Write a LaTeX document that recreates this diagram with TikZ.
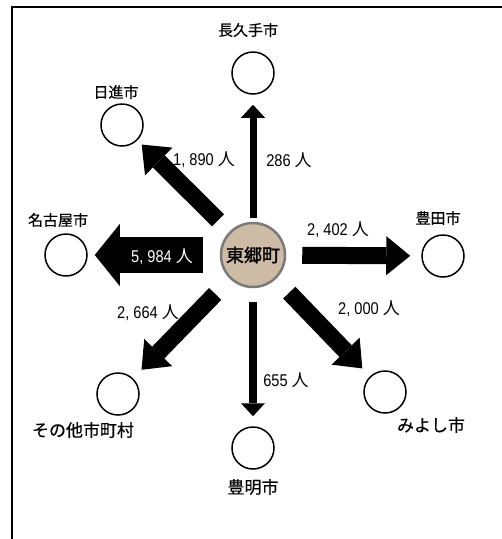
\documentclass[tikz,border=0pt]{standalone}
\usepackage{fontspec}
\setmainfont{Noto Sans CJK JP}
\newfontfamily\numfont[FakeStretch=0.86]{Liberation Sans}
\newfontfamily\jpfont{Noto Sans CJK JP}
\newfontfamily\lblfont{Noto Sans CJK JP}[BoldFont=Noto Sans CJK JP,BoldFeatures={FakeBold=0.5}]
\newfontfamily\hubfont{Noto Sans CJK JP}[BoldFont=Noto Sans CJK JP,BoldFeatures={FakeBold=1.6}]
\usetikzlibrary{arrows.meta}
\definecolor{hubfill}{HTML}{CDBBA5}
\definecolor{hubline}{HTML}{7A7A7A}
\begin{document}
\begin{tikzpicture}[x=1pt,y=-1pt,
  town/.style={circle,draw=black,line width=1.5pt,minimum size=42pt,inner sep=0pt},
  hub/.style={circle,draw=hubline,fill=hubfill,line width=2.5pt,minimum size=64pt,inner sep=0pt,
    font=\fontsize{18}{18}\selectfont\hubfont\bfseries},
  lbl/.style={inner sep=0pt,font=\fontsize{15}{15}\selectfont\lblfont\bfseries},
  lblb/.style={inner sep=0pt,font=\fontsize{17}{17}\selectfont\lblfont\bfseries},
  num/.style={inner sep=0pt,font=\fontsize{17}{17}\selectfont\numfont},
  flow/.style={draw=black,line width=#1},
  thinhead/.style={-{Triangle[length=13pt,width=24pt,line width=0pt]}},
  midhead/.style={-{Triangle[length=24pt,width=39pt,line width=0pt]}},
  bighead/.style={-{Triangle[length=25pt,width=62pt,line width=0pt]}},
]
\useasboundingbox (0,0) rectangle (502,539);
\draw[line width=2pt] (12,539) -- (12,7) -- (502,7);

\node[hub] (c) at (253,255) {東郷町};
\node[town] (nag) at (253,73) {};
\node[town] (nis) at (122,125) {};
\node[town] (ngy) at (66,255) {};
\node[town] (toy) at (443,256) {};
\node[town] (oth) at (118,394) {};
\node[town] (tym) at (253,448) {};
\node[town] (miy) at (385,392) {};

\node[lbl] (nagL) at (248,30) {長久手市};
\node[lbl] (nisL) at (116,92) {日進市};
\node[lbl] (ngyL) at (58,220) {名古屋市};
\node[lbl] (toyL) at (438,218) {豊田市};
\node[lblb] (othL) at (83,430) {その他市町村};
\node[lblb] (tymL) at (253,487) {豊明市};
\node[lblb] (miyL) at (431,425) {みよし市};

\draw[flow=7pt,thinhead,shorten <=4pt,shorten >=10pt] (c) -- (nag);
\draw[flow=8pt,thinhead,shorten <=14pt,shorten >=10pt] (c) -- (tym);
\draw[flow=17pt,midhead,shorten <=16pt,shorten >=6pt] (c) -- (nis);
\draw[flow=17pt,midhead,shorten <=16pt,shorten >=11pt] (c) -- (toy);
\draw[flow=17pt,midhead,shorten <=19pt,shorten >=11pt] (c) -- (miy);
\draw[flow=17pt,midhead,shorten <=21pt,shorten >=12pt] (c) -- (oth);
\draw[flow=36pt,bighead,shorten <=17pt,shorten >=7pt] (c) -- (ngy);

\node[num] (n1) at (204,160) {1, 890 {\jpfont 人}};
\node[num] (n2) at (289,160) {286 {\jpfont 人}};
\node[num] (n3) at (338,230) {2, 402 {\jpfont 人}};
\node[num,text=white] (n4) at (162,257) {5, 984 {\jpfont 人}};
\node[num] (n5) at (148,313) {2, 664 {\jpfont 人}};
\node[num] (n6) at (369,309) {2, 000 {\jpfont 人}};
\node[num] (n7) at (286,380) {655 {\jpfont 人}};
\end{tikzpicture}
\end{document}
